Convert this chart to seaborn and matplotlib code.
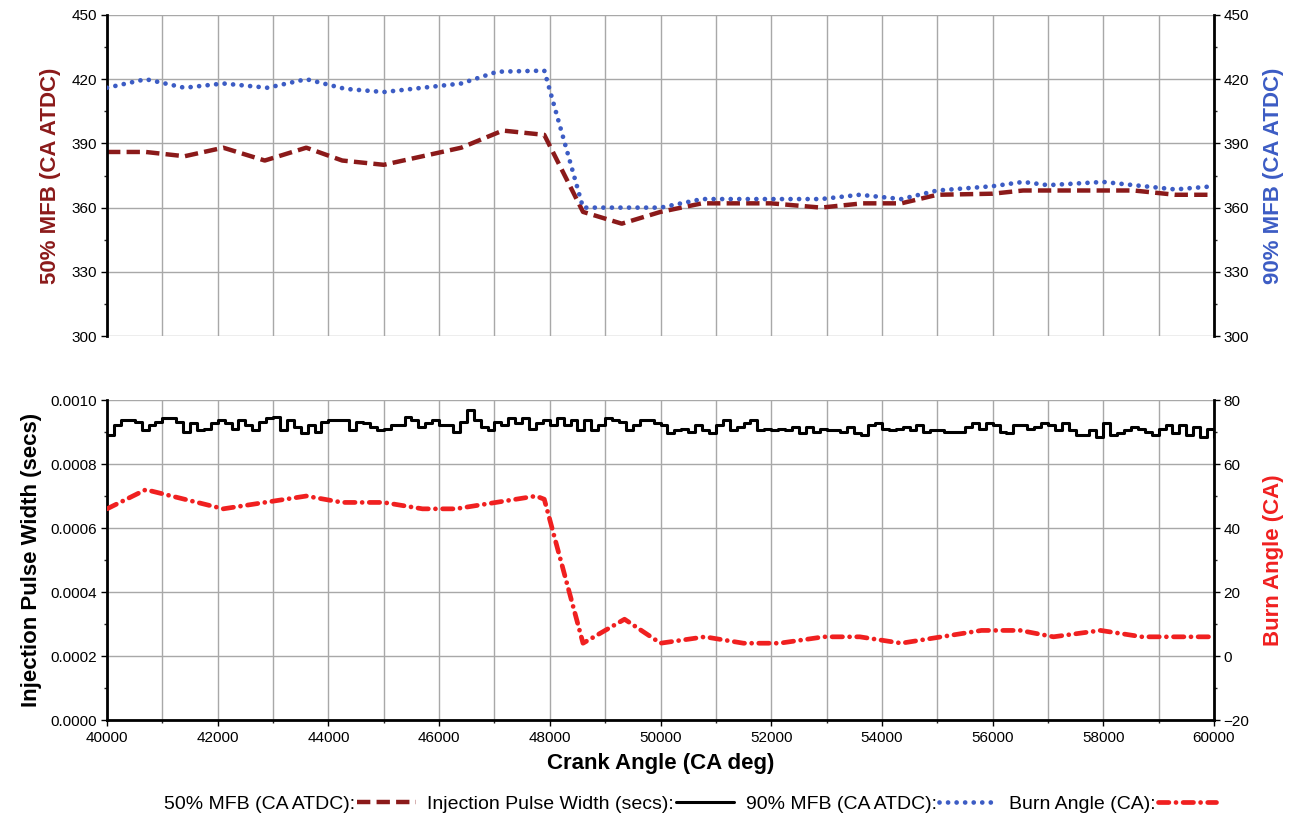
import numpy as np
import pandas as pd
import matplotlib
matplotlib.use('Agg')
import matplotlib.pyplot as plt
from matplotlib.ticker import MultipleLocator
import seaborn as sns

# 50% MFB (CA ATDC)
mfb50_angle = [40000, 40700, 41400, 42100, 42850, 43600, 44250, 45000, 45700, 46400,
               47150, 47900, 48600, 49300, 50000, 50750, 52000, 52900, 53650, 54350,
               55000, 56000, 56550, 58550, 59300, 60000]
mfb50 = [386, 386, 384, 388, 382, 388, 382, 380, 384, 388,
         396, 394, 358, 352.5, 358, 362, 362, 360, 362, 362,
         366, 366.5, 368, 368, 366, 366]

# 90% MFB (CA ATDC)
mfb90_angle = [40000, 40700, 41400, 42100, 42900, 43600, 44300, 45000, 45700, 46400,
               47050, 47900, 48600, 50000, 50750, 52000, 52900, 53600, 54350, 55000,
               56000, 56550, 57000, 58000, 58550, 59300, 60000]
mfb90 = [416, 420, 416, 418, 416, 420, 415.5, 414, 416, 418,
         423.5, 424, 360, 360, 364, 364, 364, 366, 364, 368,
         370, 372, 370.5, 372, 370.5, 368.5, 370]

# Burn Angle (CA)
burn_angle_x = [40000, 40700, 42100, 43600, 44250, 45000, 45700, 46300, 47750, 47900,
                48600, 49350, 50000, 50800, 51500, 52150, 52950, 53600, 54350, 55800,
                56500, 57100, 57950, 58700, 60000]
burn_angle = [46, 52, 46, 50, 48, 48, 46, 46, 50, 49,
              4, 11.5, 4, 6, 4, 4, 6, 6, 4, 8,
              8, 6, 8, 6, 6]

# Injection Pulse Width (secs), one value per 125 CA deg step
pulse_angle = np.arange(40000, 60001, 125)
pulse_width = [
    0.000891, 0.000922, 0.000938, 0.000938, 0.000932, 0.000906, 0.000922, 0.000932,
    0.000943, 0.000943, 0.000932, 0.000901, 0.000927, 0.000906, 0.000911, 0.000927,
    0.000938, 0.000927, 0.000911, 0.000938, 0.000922, 0.000906, 0.000932, 0.000943,
    0.000948, 0.000906, 0.000938, 0.000917, 0.000896, 0.000922, 0.000901, 0.000932,
    0.000938, 0.000938, 0.000938, 0.000906, 0.000932, 0.000927, 0.000917, 0.000906,
    0.000911, 0.000922, 0.000922, 0.000948, 0.000938, 0.000917, 0.000927, 0.000938,
    0.000922, 0.000922, 0.000901, 0.000932, 0.000969, 0.000938, 0.000917, 0.000906,
    0.000932, 0.000922, 0.000943, 0.000927, 0.000943, 0.000911, 0.000927, 0.000938,
    0.000922, 0.000943, 0.000922, 0.000938, 0.000906, 0.000938, 0.000906, 0.000922,
    0.000943, 0.000938, 0.000932, 0.000906, 0.000922, 0.000938, 0.000938, 0.000927,
    0.000922, 0.000896, 0.000906, 0.000911, 0.000901, 0.000922, 0.000906, 0.000896,
    0.000922, 0.000938, 0.000906, 0.000917, 0.000927, 0.000938, 0.000906, 0.000911,
    0.000906, 0.000911, 0.000906, 0.000917, 0.000896, 0.000917, 0.000901, 0.000911,
    0.000906, 0.000906, 0.000901, 0.000917, 0.000896, 0.000891, 0.000922, 0.000927,
    0.000911, 0.000906, 0.000911, 0.000917, 0.000906, 0.000922, 0.000901, 0.000906,
    0.000906, 0.000901, 0.000901, 0.000901, 0.000917, 0.000927, 0.000911, 0.000927,
    0.000922, 0.000901, 0.000896, 0.000922, 0.000922, 0.000911, 0.000917, 0.000927,
    0.000922, 0.000906, 0.000927, 0.000906, 0.000891, 0.000891, 0.000906, 0.000885,
    0.000927, 0.000891, 0.000896, 0.000906, 0.000917, 0.000911, 0.000901, 0.000891,
    0.000911, 0.000922, 0.000896, 0.000922, 0.000891, 0.000917, 0.000885, 0.000911,
    0.000885,
]

df50 = pd.DataFrame({'angle': mfb50_angle, 'value': mfb50})
df90 = pd.DataFrame({'angle': mfb90_angle, 'value': mfb90})
dfburn = pd.DataFrame({'angle': burn_angle_x, 'value': burn_angle})
dfpulse = pd.DataFrame({'angle': pulse_angle, 'value': pulse_width})

c50 = '#8b1a1a'
c90 = '#3c5cc4'
cburn = '#f02020'

sns.set_theme(style='white')
plt.rcParams['font.family'] = ['Liberation Sans', 'DejaVu Sans']
plt.rcParams['text.color'] = 'black'
plt.rcParams['axes.labelcolor'] = 'black'

fig = plt.figure(figsize=(13.02, 8.24), dpi=100)
ax_top = fig.add_axes([0.0822, 0.5922, 0.8502, 0.3896])
ax_top_r = ax_top.twinx()
ax_bot = fig.add_axes([0.0822, 0.1262, 0.8502, 0.3883])
ax_bot_r = ax_bot.twinx()

sns.lineplot(data=df50, x='angle', y='value', ax=ax_top, color=c50, lw=3.2,
             linestyle=(0, (3.0, 1.4)), label='50% MFB (CA ATDC):', legend=False)
sns.lineplot(data=df90, x='angle', y='value', ax=ax_top_r, color=c90, lw=3.4,
             linestyle=(0, (0.01, 1.8)), dash_capstyle='round',
             label='90% MFB (CA ATDC):', legend=False)
sns.lineplot(data=dfpulse, x='angle', y='value', ax=ax_bot, color='black', lw=2.2,
             drawstyle='steps-post', label='Injection Pulse Width (secs):', legend=False)
sns.lineplot(data=dfburn, x='angle', y='value', ax=ax_bot_r, color=cburn, lw=3.4,
             linestyle=(0, (2.2, 1.5, 0.01, 1.5)), dash_capstyle='round',
             label='Burn Angle (CA):', legend=False)

for ax in (ax_top, ax_top_r, ax_bot, ax_bot_r):
    ax.set_xlim(40000, 60000)
    ax.xaxis.set_major_locator(MultipleLocator(2000))
    ax.xaxis.set_minor_locator(MultipleLocator(1000))
    for side in ('top', 'bottom', 'left', 'right'):
        ax.spines[side].set_visible(False)

ax_top.set_ylim(300, 450)
ax_top_r.set_ylim(300, 450)
for ax in (ax_top, ax_top_r):
    ax.yaxis.set_major_locator(MultipleLocator(30))
    ax.yaxis.set_minor_locator(MultipleLocator(15))
ax_bot.set_ylim(0, 0.001)
ax_bot.yaxis.set_major_locator(MultipleLocator(0.0002))
ax_bot.yaxis.set_minor_locator(MultipleLocator(0.0001))
ax_bot.yaxis.set_major_formatter(plt.FuncFormatter(lambda v, p: f'{v:.4f}'))
ax_bot_r.set_ylim(-20, 80)
ax_bot_r.yaxis.set_major_locator(MultipleLocator(20))
ax_bot_r.yaxis.set_minor_locator(MultipleLocator(10))

# grids
for ax in (ax_top, ax_bot):
    ax.grid(True, which='major', axis='y', color='#a8a8a8', lw=1.0)
    ax.grid(True, which='both', axis='x', color='#a8a8a8', lw=1.0)
    ax.set_axisbelow(True)

# spines
ax_top.spines['left'].set_visible(True)
ax_top_r.spines['right'].set_visible(True)
ax_bot.spines['left'].set_visible(True)
ax_bot.spines['bottom'].set_visible(True)
ax_bot_r.spines['right'].set_visible(True)
for ax, side in ((ax_top, 'left'), (ax_top_r, 'right'), (ax_bot, 'left'),
                 (ax_bot, 'bottom'), (ax_bot_r, 'right')):
    ax.spines[side].set_color('black')
    ax.spines[side].set_linewidth(2.0)

tick_kw = dict(direction='out', colors='black', labelsize=11, width=1.0)
ax_top.tick_params(axis='y', which='major', left=True, length=4, pad=3, **tick_kw)
ax_top.tick_params(axis='y', which='minor', left=True, length=2.5, width=1.0, direction='out')
ax_top_r.tick_params(axis='y', which='major', right=True, length=4, pad=3, **tick_kw)
ax_top_r.tick_params(axis='y', which='minor', right=True, length=2.5, width=1.0, direction='out')
ax_bot.tick_params(axis='y', which='major', left=True, length=4, pad=3, **tick_kw)
ax_bot.tick_params(axis='y', which='minor', left=True, length=2.5, width=1.0, direction='out')
ax_bot_r.tick_params(axis='y', which='major', right=True, length=4, pad=3, **tick_kw)
ax_bot_r.tick_params(axis='y', which='minor', right=True, length=2.5, width=1.0, direction='out')
ax_bot.tick_params(axis='x', which='major', bottom=True, length=4, pad=4, **tick_kw)
ax_bot.tick_params(axis='x', which='minor', bottom=True, length=2.5, width=1.0, direction='out')
for ax in (ax_top, ax_top_r, ax_bot_r):
    ax.tick_params(axis='x', which='both', bottom=False, labelbottom=False)

ax_top.set_xlabel('')
ax_top_r.set_xlabel('')
ax_bot_r.set_xlabel('')
ax_top.set_ylabel('50% MFB (CA ATDC)', color=c50, fontsize=16, fontweight='bold', labelpad=8)
ax_top_r.set_ylabel('90% MFB (CA ATDC)', color=c90, fontsize=16, fontweight='bold',
                    rotation=90, labelpad=10)
ax_bot.set_ylabel('Injection Pulse Width (secs)', color='black', fontsize=16,
                  fontweight='bold', labelpad=6)
ax_bot_r.set_ylabel('Burn Angle (CA)', color=cburn, fontsize=16, fontweight='bold',
                    rotation=90, labelpad=10)
ax_bot.set_xlabel('Crank Angle (CA deg)', color='black', fontsize=16, fontweight='bold',
                  labelpad=6)

handles = [ax_top.get_lines()[0], ax_bot.get_lines()[0],
           ax_top_r.get_lines()[0], ax_bot_r.get_lines()[0]]
labels = [h.get_label() for h in handles]
fig.legend(handles, labels, loc='lower center', bbox_to_anchor=(0.53, -0.008), ncol=4,
           frameon=False, markerfirst=False, handlelength=3.0, handletextpad=0.1,
           columnspacing=0.6, fontsize=14, labelcolor='black')

fig.savefig('out.png', dpi=100)
